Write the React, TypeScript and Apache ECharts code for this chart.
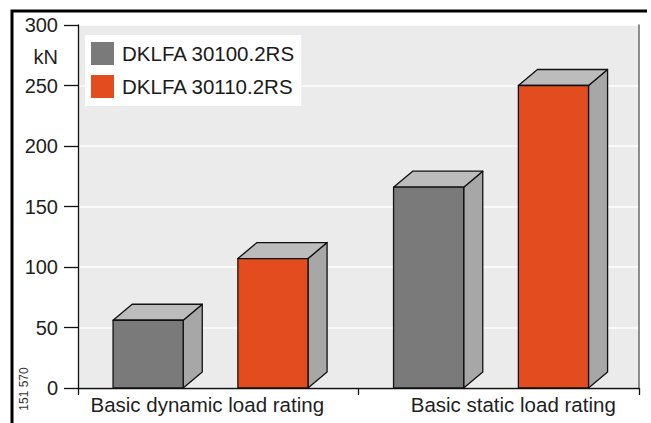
import React, { useEffect, useRef } from "react";
import * as echarts from "echarts";

const categories = ["Basic dynamic load rating", "Basic static load rating"];
const seriesNames = ["DKLFA 30100.2RS", "DKLFA 30110.2RS"];
const dynamicValues = [56, 107];
const staticValues = [166, 250];
const yTicks = [0, 50, 100, 150, 200, 250, 300];

const frontColors = ["#7a7a7a", "#e34c1f"];
const topColor = "#bcbcbc";
const sideColor = "#a7a7a7";
const barOffsets = [-0.25, 0.195];
const labelPads = [
  [0, 22, 0, 0],
  [0, 0, 0, 29],
];
const FONT = "'Liberation Sans', Arial, Helvetica, sans-serif";

export default function App() {
  const ref = useRef<HTMLDivElement>(null);
  useEffect(() => {
    if (!ref.current) return;
    const chart = echarts.init(ref.current, undefined, { renderer: "svg" });
    const groups = [dynamicValues, staticValues];

    const makeSeries = (si: number) => ({
      type: "custom",
      name: seriesNames[si],
      itemStyle: { color: frontColors[si] },
      data: categories.map((_, ci) => [ci, groups[ci][si]]),
      renderItem: (params: any, api: any) => {
        const ci = api.value(0);
        const val = api.value(1);
        const band = api.size([1, 0])[0];
        const base = api.coord([ci, 0]);
        const top = api.coord([ci, val]);
        const w = band * 0.25;
        const dx = band * 0.068;
        const dy = 16;
        const cx = base[0] + barOffsets[si] * band;
        const x0 = cx - w / 2;
        const x1 = cx + w / 2;
        const y0 = base[1];
        const y1 = top[1];
        const stroke = { stroke: "#111", lineWidth: 1.3, lineJoin: "round" };
        return {
          type: "group",
          children: [
            {
              type: "polygon",
              shape: { points: [[x1, y0], [x1, y1], [x1 + dx, y1 - dy], [x1 + dx, y0 - dy]] },
              style: { fill: sideColor, ...stroke },
            },
            {
              type: "polygon",
              shape: { points: [[x0, y1], [x1, y1], [x1 + dx, y1 - dy], [x0 + dx, y1 - dy]] },
              style: { fill: topColor, ...stroke },
            },
            {
              type: "rect",
              shape: { x: x0, y: y1, width: w, height: y0 - y1 },
              style: { fill: frontColors[si], ...stroke },
            },
          ],
        };
      },
    });

    chart.setOption({
      animation: false,
      backgroundColor: "#ffffff",
      grid: {
        left: 78,
        right: 12,
        top: 25,
        bottom: 35,
        show: true,
        backgroundColor: "#ebebeb",
        borderWidth: 0,
      },
      legend: {
        orient: "vertical",
        left: 85,
        top: 35,
        padding: [7, 6, 8, 6],
        backgroundColor: "#ffffff",
        itemWidth: 23,
        itemHeight: 23,
        itemGap: 10,
        icon: "rect",
        data: seriesNames.map((n, i) => ({ name: n, itemStyle: { color: frontColors[i] } })),
        textStyle: { fontSize: 20.5, color: "#1a1a1a", fontFamily: FONT, padding: [0, 0, 0, 3] },
      },
      xAxis: {
        type: "category",
        data: categories.map((c, i) => ({ value: c, textStyle: { padding: labelPads[i] } })),
        axisLine: { lineStyle: { color: "#111", width: 1.3 } },
        axisTick: { show: true, length: 7, lineStyle: { color: "#111", width: 1.3 } },
        axisLabel: { fontSize: 20.5, color: "#1f1f1f", fontFamily: FONT, margin: 6, interval: 0, hideOverlap: false },
      },
      yAxis: [
        {
          type: "value",
          min: yTicks[0],
          max: yTicks[yTicks.length - 1],
          interval: 50,
          axisLine: { show: true, lineStyle: { color: "#111", width: 1.3 } },
          axisTick: { show: true, length: 14, lineStyle: { color: "#111", width: 1.3 } },
          axisLabel: { fontSize: 20, color: "#1f1f1f", fontFamily: FONT, margin: 20 },
          splitLine: { show: true, lineStyle: { color: "#ffffff", width: 1.5 } },
        },
        {
          type: "value",
          position: "right",
          min: yTicks[0],
          max: yTicks[yTicks.length - 1],
          interval: 50,
          axisLine: { show: true, lineStyle: { color: "#6a6a6a", width: 1.5 } },
          axisTick: { show: false },
          axisLabel: { show: false },
          splitLine: { show: false },
        },
      ],
      graphic: [
        {
          type: "polyline",
          shape: { points: [[12, 430], [12, 11], [647, 11]] },
          style: { stroke: "#000", lineWidth: 3, fill: "none" },
          silent: true,
        },
        {
          type: "text",
          x: 58,
          y: 57,
          style: { text: "kN", fontSize: 20, fill: "#1f1f1f", fontFamily: FONT, align: "right", verticalAlign: "middle" },
        },
        {
          type: "text",
          x: 24,
          y: 389,
          rotation: Math.PI / 2,
          style: { text: "151 570", fontSize: 12, fill: "#333", fontFamily: FONT, align: "center", verticalAlign: "middle" },
        },
      ],
      series: [makeSeries(0), makeSeries(1)],
    });
    return () => chart.dispose();
  }, []);
  return <div ref={ref} style={{ position: "fixed", left: 0, top: 0, width: 651, height: 423 }} />;
}
